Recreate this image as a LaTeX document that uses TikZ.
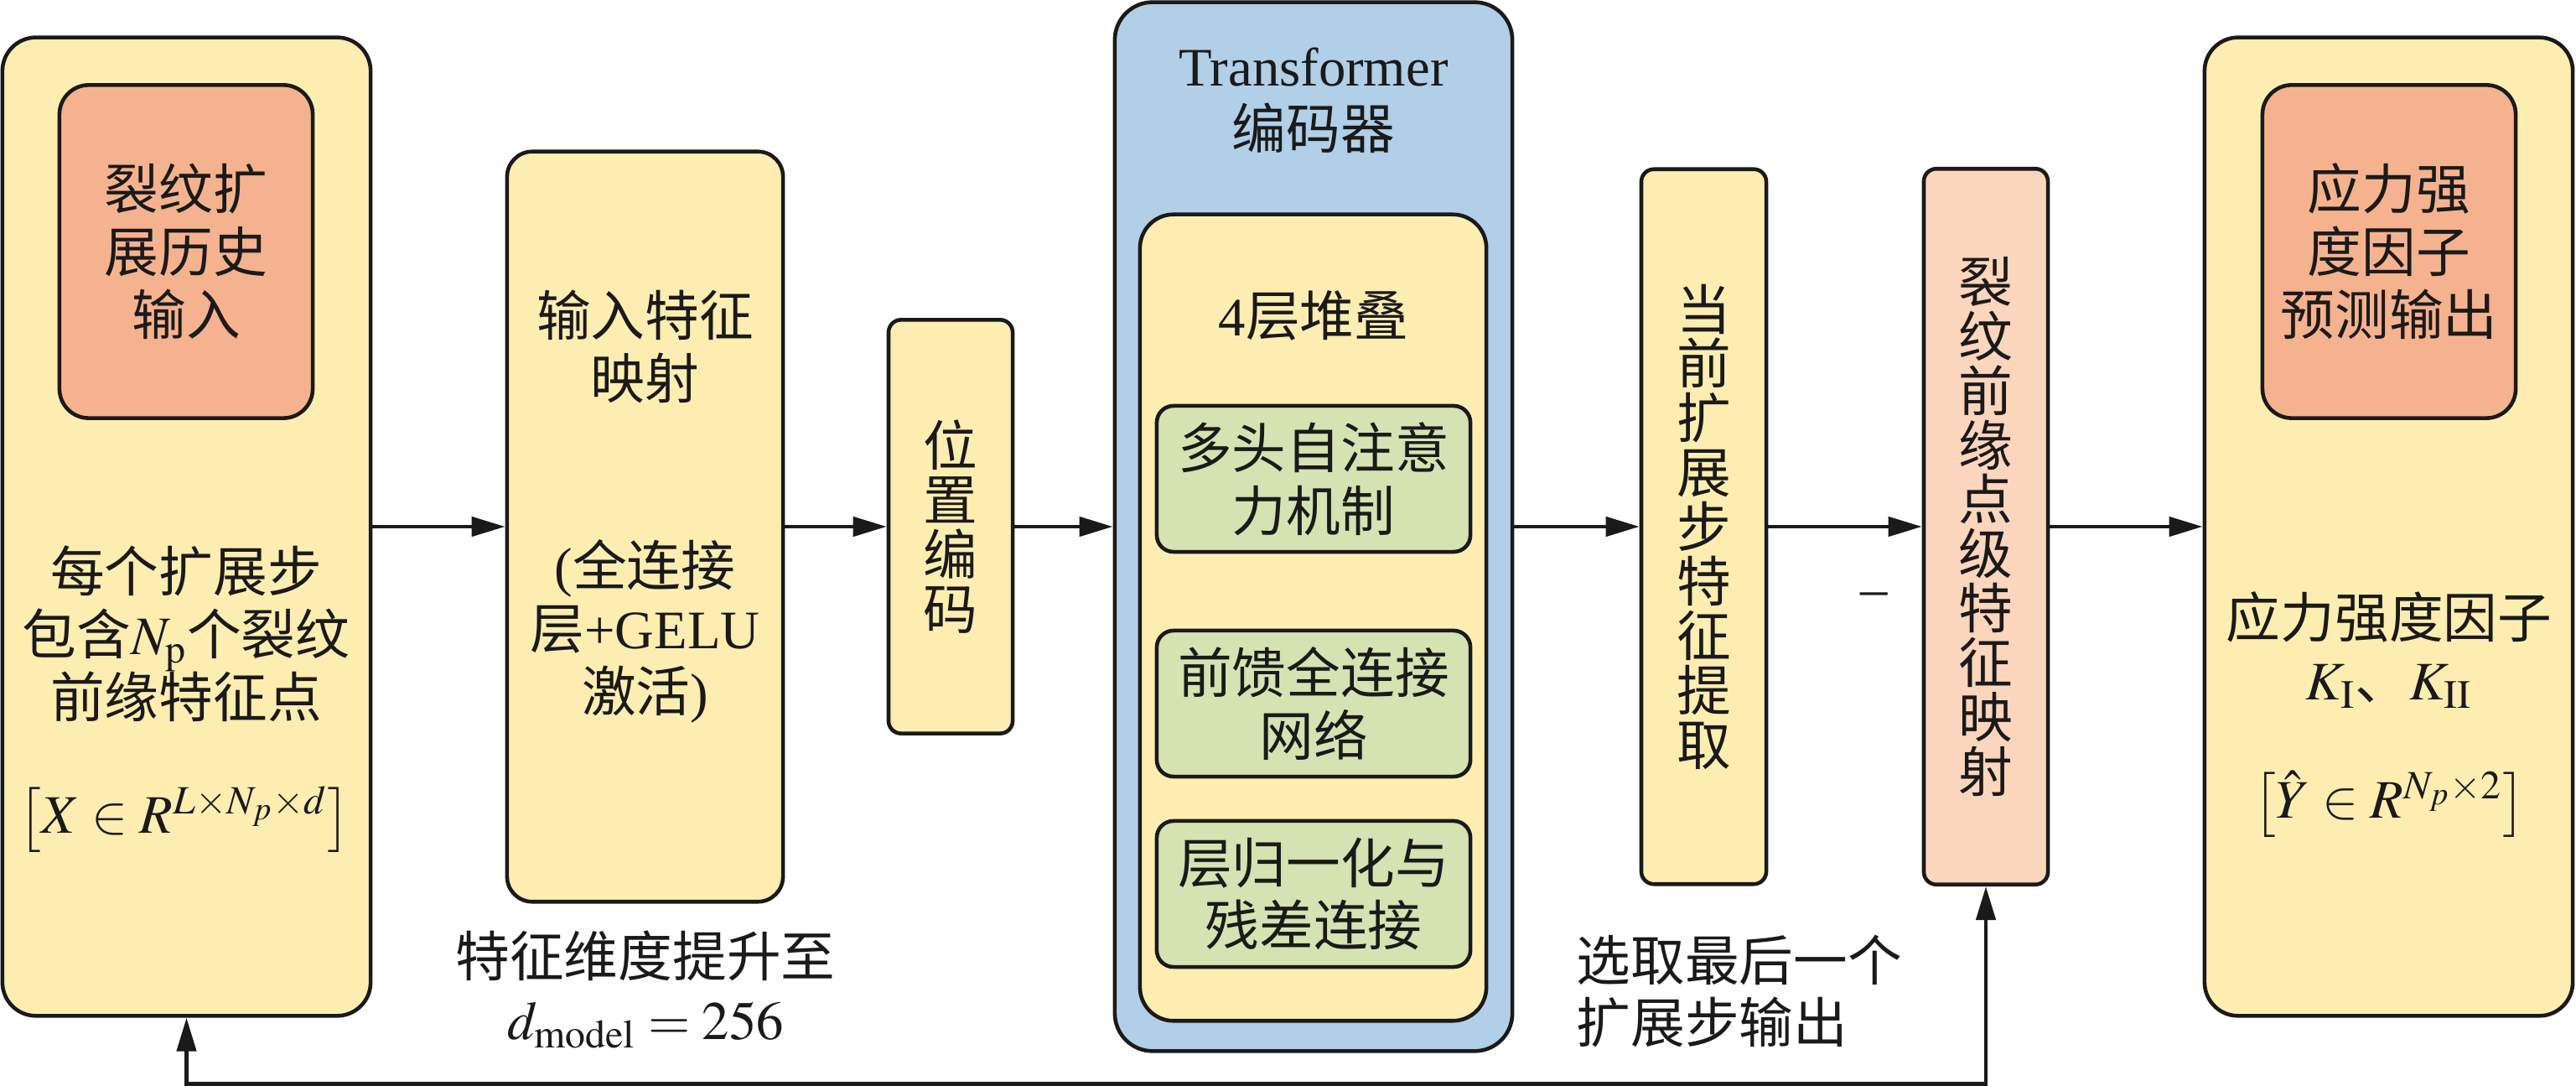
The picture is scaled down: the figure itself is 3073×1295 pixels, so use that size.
\documentclass[tikz,border=0pt]{standalone}
\usepackage{mathptmx}
\usepackage[no-math]{fontspec}
\setmainfont{Liberation Serif}
\newfontfamily\cjk{Noto Sans CJK SC}
\usetikzlibrary{arrows.meta}
\definecolor{cyel}{HTML}{FEEDB1}
\definecolor{corg}{HTML}{F5B28E}
\definecolor{cblue}{HTML}{B1CFE7}
\definecolor{cgrn}{HTML}{D5E2B1}
\definecolor{cpink}{HTML}{FBD5BC}
\definecolor{cline}{HTML}{1A1A1A}
\begin{document}
\begin{tikzpicture}[x=0.01cm,y=-0.01cm,
  box/.style={draw=cline, line width=1.3pt, inner sep=0pt},
  txt/.style={font={\cjk\fontsize{18.4}{21.3}\selectfont}, align=center, inner sep=0pt, text=cline},
  vtxt/.style={font={\cjk\fontsize{18.4}{18.45}\selectfont\lineskiplimit=-50pt}, align=center, inner sep=0pt, text=cline},
  arr/.style={draw=cline, line width=1.3pt, -{Triangle[length=0.4cm,width=0.23cm]}},
  arrb/.style={draw=cline, line width=1.3pt, {Triangle[length=0.4cm,width=0.23cm]}-{Triangle[length=0.4cm,width=0.23cm]}},
]
\useasboundingbox (0,0) rectangle (3073,1295);

% input box
\node[box, fill=cyel, rounded corners=0.4cm, minimum width=4.39cm, minimum height=11.66cm] (inbox) at (222.5,628) {};
\node[box, txt, fill=corg, rounded corners=0.35cm, minimum width=3.02cm, minimum height=3.97cm] (inhead) at (222,300) {裂纹扩\\展历史\\输入};
\node[txt] (intext) at (222,756) {每个扩展步\\包含$N_{\mathrm{p}}$个裂纹\\前缘特征点};
\node[txt] (inform) at (220,977) {$\bigl[X\in R^{L\times N_p\times d}\bigr]$};

% feature mapping
\node[box, fill=cyel, rounded corners=0.3cm, minimum width=3.29cm, minimum height=8.94cm] (fmap) at (769.5,628) {};
\node[txt] (fmapA) at (769.5,413) {输入特征\\映射};
\node[txt] (fmapB) at (769.5,753) {{\rmfamily(}全连接\\层{\rmfamily+GELU}\\激活{\rmfamily)}};
\node[txt] (dimnote) at (770,1180) {特征维度提升至\\$d_{\mathrm{model}}=256$};

% positional encoding
\node[box, vtxt, fill=cyel, rounded corners=0.15cm, minimum width=1.48cm, minimum height=4.93cm] (pos) at (1134,628) {位\\置\\编\\码};

% transformer
\node[box, fill=cblue, rounded corners=0.45cm, minimum width=4.74cm, minimum height=12.5cm] (tf) at (1567,628) {};
\node[txt] (tftitle) at (1567,120) {{\rmfamily Transformer}\\编码器};
\node[box, fill=cyel, rounded corners=0.4cm, minimum width=4.13cm, minimum height=9.61cm] (stack) at (1566.5,736.5) {};
\node[txt] (stacklbl) at (1567,376) {{\rmfamily 4}层堆叠};
\node[box, txt, fill=cgrn, rounded corners=0.2cm, minimum width=3.74cm, minimum height=1.74cm] (mha) at (1567,571) {多头自注意\\力机制};
\node[box, txt, fill=cgrn, rounded corners=0.2cm, minimum width=3.74cm, minimum height=1.74cm] (ffn) at (1567,839) {前馈全连接\\网络};
\node[box, txt, fill=cgrn, rounded corners=0.2cm, minimum width=3.74cm, minimum height=1.74cm] (lnorm) at (1567,1066) {层归一化与\\残差连接};

% current step
\node[box, vtxt, fill=cyel, rounded corners=0.15cm, minimum width=1.49cm, minimum height=8.52cm] (cur) at (2032.5,628) {当\\前\\扩\\展\\步\\特\\征\\提\\取};
\node[txt] (dash) at (2236,715) {{\rmfamily –}};
\node[txt, align=left, anchor=west] (selnote) at (1880,1182) {选取最后一个\\扩展步输出};

% point-level mapping
\node[box, vtxt, fill=cpink, rounded corners=0.15cm, minimum width=1.48cm, minimum height=8.53cm] (ptmap) at (2369,628) {裂\\纹\\前\\缘\\点\\级\\特\\征\\映\\射};

% output box
\node[box, fill=cyel, rounded corners=0.4cm, minimum width=4.39cm, minimum height=11.66cm] (outbox) at (2849.5,628) {};
\node[box, txt, fill=corg, rounded corners=0.35cm, minimum width=3.02cm, minimum height=3.97cm] (outhead) at (2850,300) {应力强\\度因子\\预测输出};
\node[txt] (outtext) at (2850,775) {应力强度因子\\$K_{\mathrm{I}}$、$K_{\mathrm{II}}$};
\node[txt] (outform) at (2850,959) {$\bigl[\hat{Y}\in R^{N_p\times 2}\bigr]$};

% connectors
\draw[arr] (inbox.east) -- (fmap.west);
\draw[arr] (fmap.east) -- (pos.west);
\draw[arr] (pos.east) -- (tf.west);
\draw[arr] (tf.east) -- (cur.west);
\draw[arr] (cur.east) -- (ptmap.west);
\draw[arr] (ptmap.east) -- (outbox.west);
\draw[arrb] (inbox.south) -- ++(0,79) -| (ptmap.south);
\end{tikzpicture}
\end{document}
